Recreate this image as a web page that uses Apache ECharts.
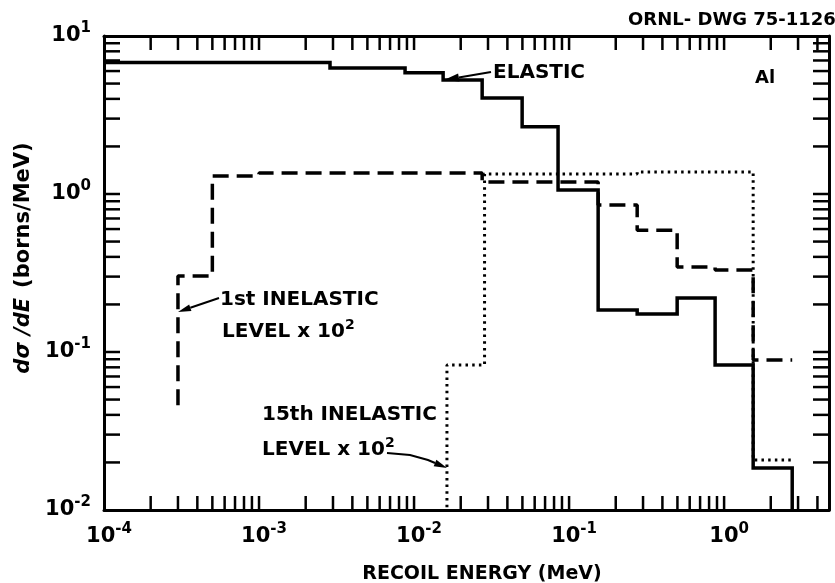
<!DOCTYPE html>
<html><head><meta charset="utf-8">
<script src="https://cdn.jsdelivr.net/npm/echarts@6/dist/echarts.min.js"></script>
<style>html,body{margin:0;padding:0;background:#fff}#c{width:835px;height:583px}</style>
</head><body><div id="c"></div>
<script>
// ---- axis ranges ----
const xMin = 1e-4, xMax = 4.75;
const yMin = 1e-2, yMax = 10;

// ---- tick label exponents (labels drawn at powers of ten) ----
const xTickExponents = [-4, -3, -2, -1, 0];
const yTickExponents = [-2, -1, 0, 1];
const tickMantissas = [1, 2, 3, 4, 5, 6, 7, 8, 9];

// ---- ELASTIC (solid histogram) ----
const elasticEdges  = [1e-4, 2.87e-3, 8.75e-3, 0.0154, 0.0275, 0.0498, 0.0849, 0.154, 0.275, 0.498, 0.875, 1.54, 2.75];
const elasticValues = [6.79, 6.27, 5.86, 5.27, 4.05, 2.66, 1.06, 0.1845, 0.174, 0.22, 0.0828, 0.01845];
const elasticEndValue = 0.001;

// ---- 1st INELASTIC LEVEL x 10^2 (dashed) ----
const inel1Edges  = [3e-4, 5e-4, 1e-3, 0.0275, 0.154, 0.275, 0.498, 0.875, 1.54, 2.75];
const inel1Values = [0.303, 1.30, 1.36, 1.19, 0.851, 0.59, 0.345, 0.33, 0.089];
const inel1StartValue = 0.046;

// ---- 15th INELASTIC LEVEL x 10^2 (dotted) ----
const inel15Edges  = [0.0163, 0.0285, 0.275, 1.54, 2.75];
const inel15Values = [0.0828, 1.34, 1.38, 0.0207];
const inel15StartValue = 0.001;

function steps(edges, values, startVal, endVal) {
  const pts = [];
  if (startVal != null) pts.push([edges[0], startVal]);
  for (let i = 0; i < values.length; i++) {
    pts.push([edges[i], values[i]]);
    pts.push([edges[i + 1], values[i]]);
  }
  if (endVal != null) pts.push([edges[edges.length - 1], endVal]);
  return pts;
}

// tick positions (all four sides, inward)
const tickData = [];
xTickExponents.forEach(e => tickMantissas.forEach(m => {
  const v = m * Math.pow(10, e);
  if (v > xMin * 1.0001 && v < xMax) { tickData.push([v, yMin, 0]); tickData.push([v, yMax, 1]); }
}));
yTickExponents.forEach(e => tickMantissas.forEach(m => {
  const v = m * Math.pow(10, e);
  if (v > yMin * 1.0001 && v < yMax * 0.9999) { tickData.push([xMin, v, 2]); tickData.push([xMax, v, 3]); }
}));

const FONT = '"DejaVu Sans", "Liberation Sans", sans-serif';
const labelRich = {
  b: { fontSize: 21, fontWeight: 'bold', fontFamily: FONT, color: '#000', lineHeight: 30 },
  s: { fontSize: 15, fontWeight: 'bold', fontFamily: FONT, color: '#000', lineHeight: 15, verticalAlign: 'top' }
};
function powLabel(v) {
  const l = Math.log10(v);
  const e = Math.round(l);
  if (Math.abs(l - e) > 1e-6) return '';
  return '{b|10}{s|' + (e < 0 ? '-' + (-e) : e) + '}';
}

const chart = echarts.init(document.getElementById('c'), null, { renderer: 'canvas' });
const axisLine = { show: true, onZero: false, lineStyle: { color: '#000', width: 3 } };

function arrow(points, headLen, headW) {
  const n = points.length;
  const tip = points[n - 1], prev = points[n - 2];
  const dx = tip[0] - prev[0], dy = tip[1] - prev[1];
  const len = Math.hypot(dx, dy);
  const ux = dx / len, uy = dy / len;
  const bx = tip[0] - ux * headLen, by = tip[1] - uy * headLen;
  const px = -uy * headW, py = ux * headW;
  const line = points.slice(0, n - 1).concat([[bx, by]]);
  return [
    { type: 'polyline', shape: { points: line }, style: { stroke: '#000', lineWidth: 2, fill: null } },
    { type: 'polygon', shape: { points: [tip, [bx + px, by + py], [bx - px, by - py]] }, style: { fill: '#000' } }
  ];
}

function txt(x, y, text, size, extra) {
  return {
    type: 'text', x: x, y: y,
    style: Object.assign({
      text: text, fill: '#000',
      font: 'bold ' + size + 'px ' + FONT,
      fontSize: size, fontWeight: 'bold', fontFamily: FONT,
      align: 'left', textAlign: 'left', verticalAlign: 'middle', textVerticalAlign: 'middle'
    }, extra || {})
  };
}

const annRich = {
  m: { fontSize: 20, fontWeight: 'bold', fontFamily: FONT, fill: '#000', color: '#000', lineHeight: 28 },
  s: { fontSize: 14, fontWeight: 'bold', fontFamily: FONT, fill: '#000', color: '#000', lineHeight: 14, verticalAlign: 'top' }
};

const graphics = [
  txt(628, 20, 'ORNL- DWG 75-1126', 18),
  txt(755, 78, 'Al', 18),
  txt(493, 73, 'ELASTIC', 20),
  txt(220, 300, '1st INELASTIC', 20),
  txt(222, 332, '{m|LEVEL x 10}{s|2}', 20, { rich: annRich }),
  txt(262, 415, '15th INELASTIC', 20),
  txt(262, 450, '{m|LEVEL x 10}{s|2}', 20, { rich: annRich }),
  {
    type: 'text', x: 24, y: 258, rotation: Math.PI / 2,
    style: {
      text: '{i|dσ /dE}   {n|(borns/MeV)}',
      align: 'center', textAlign: 'center', verticalAlign: 'middle', textVerticalAlign: 'middle',
      rich: {
        i: { fontSize: 21, fontStyle: 'italic', fontWeight: 'bold', fontFamily: FONT, fill: '#000', color: '#000' },
        n: { fontSize: 21, fontWeight: 'bold', fontFamily: FONT, fill: '#000', color: '#000' }
      }
    }
  },
  {
    type: 'text', x: 482, y: 574,
    style: {
      text: 'RECOIL ENERGY (MeV)', fill: '#000',
      font: 'bold 19px ' + FONT,
      align: 'center', textAlign: 'center', verticalAlign: 'middle', textVerticalAlign: 'middle'
    }
  }
].concat(
  arrow([[491, 72], [444, 80]], 15, 4),
  arrow([[219, 298], [178, 312]], 13, 3.5),
  arrow([[387, 453], [410, 455], [428, 460], [447, 468]], 13, 3.5)
);

chart.setOption({
  backgroundColor: '#fff',
  animation: false,
  grid: { left: 104, right: 6, top: 36, bottom: 73, containLabel: false },
  xAxis: [
    { type: 'log', logBase: 10, min: xMin, max: xMax, position: 'bottom',
      axisLine: axisLine, axisTick: { show: false }, splitLine: { show: false },
      axisLabel: { formatter: powLabel, rich: labelRich, margin: 12, padding: [0, 0, 0, 10], hideOverlap: false } },
    { type: 'log', logBase: 10, min: xMin, max: xMax, position: 'top',
      axisLine: axisLine, axisTick: { show: false }, splitLine: { show: false }, axisLabel: { show: false } }
  ],
  yAxis: [
    { type: 'log', logBase: 10, min: yMin, max: yMax, position: 'left',
      axisLine: axisLine, axisTick: { show: false }, splitLine: { show: false },
      axisLabel: { formatter: powLabel, rich: labelRich, margin: 13, hideOverlap: false } },
    { type: 'log', logBase: 10, min: yMin, max: yMax, position: 'right',
      axisLine: axisLine, axisTick: { show: false }, splitLine: { show: false }, axisLabel: { show: false } }
  ],
  series: [
    {
      type: 'custom', name: 'ticks', xAxisIndex: 0, yAxisIndex: 0, clip: false, silent: true,
      encode: { x: 0, y: 1 },
      data: tickData,
      renderItem: function (params, api) {
        const side = api.value(2);
        const p = api.coord([api.value(0), api.value(1)]);
        const L = side >= 2 ? 16 : 14;
        let x2 = p[0], y2 = p[1];
        if (side === 0) y2 -= L; else if (side === 1) y2 += L; else if (side === 2) x2 += L; else x2 -= L;
        return { type: 'line', shape: { x1: p[0], y1: p[1], x2: x2, y2: y2 }, style: { stroke: '#000', lineWidth: 2.5 } };
      }
    },
    {
      type: 'line', name: 'ELASTIC', data: steps(elasticEdges, elasticValues, null, elasticEndValue),
      showSymbol: false, symbol: 'none', clip: true,
      lineStyle: { color: '#000', width: 3.5, join: 'miter' }
    },
    {
      type: 'line', name: '1st INELASTIC LEVEL x 10^2', data: steps(inel1Edges, inel1Values, inel1StartValue, null),
      showSymbol: false, symbol: 'none', clip: true,
      lineStyle: { color: '#000', width: 3.5, type: [16, 8] }
    },
    {
      type: 'line', name: '15th INELASTIC LEVEL x 10^2', data: steps(inel15Edges, inel15Values, inel15StartValue, null),
      showSymbol: false, symbol: 'none', clip: true,
      lineStyle: { color: '#000', width: 3, type: [2.5, 4.2] }
    }
  ],
  graphic: graphics
});
</script>
</body></html>
